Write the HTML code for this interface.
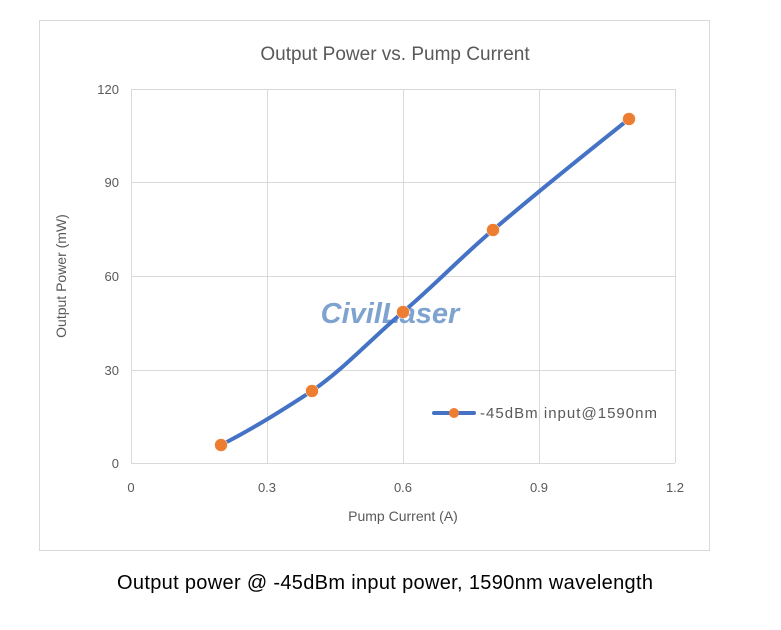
<!DOCTYPE html>
<html><head><style>
body{margin:0;background:#fff;width:781px;height:625px;overflow:hidden}
</style></head><body>
<svg width="781" height="625" xmlns="http://www.w3.org/2000/svg" font-family="Liberation Sans, sans-serif">
<rect x="39.5" y="20.5" width="670" height="530" fill="#fff" stroke="#d9d9d9"/>
<text x="395" y="60" font-size="19" fill="#595959" text-anchor="middle">Output Power vs. Pump Current</text>
<g stroke="#d9d9d9" stroke-width="1">
<line x1="131" y1="89.5" x2="675" y2="89.5"/>
<line x1="131" y1="182.5" x2="675" y2="182.5"/>
<line x1="131" y1="276.5" x2="675" y2="276.5"/>
<line x1="131" y1="370.5" x2="675" y2="370.5"/>
<line x1="131" y1="463.5" x2="675" y2="463.5"/>
<line x1="131.5" y1="89" x2="131.5" y2="463"/>
<line x1="267.5" y1="89" x2="267.5" y2="463"/>
<line x1="403.5" y1="89" x2="403.5" y2="463"/>
<line x1="539.5" y1="89" x2="539.5" y2="463"/>
<line x1="675.5" y1="89" x2="675.5" y2="463"/>
</g>
<g font-size="13" fill="#595959" text-anchor="end">
<text x="119" y="94">120</text><text x="119" y="187">90</text><text x="119" y="281">60</text><text x="119" y="375">30</text><text x="119" y="468">0</text>
</g>
<g font-size="13" fill="#595959" text-anchor="middle">
<text x="131" y="492">0</text><text x="267" y="492">0.3</text><text x="403" y="492">0.6</text><text x="539" y="492">0.9</text><text x="675" y="492">1.2</text>
</g>
<text x="403" y="521" font-size="14" fill="#595959" text-anchor="middle">Pump Current (A)</text>
<text transform="translate(66,276) rotate(-90)" font-size="14" fill="#595959" text-anchor="middle">Output Power (mW)</text>
<text x="390" y="323" font-size="29" font-weight="bold" font-style="italic" fill="#7fa3cf" text-anchor="middle">CivilLaser</text>
<path d="M221,445 C260,425 290,405 312,391 C345,368 370,340 403,312 C435,285 460,258 493,230 C540,190 590,150 629,119" fill="none" stroke="#4472c4" stroke-width="4" stroke-linecap="round"/>
<g fill="#ed7d31" stroke="#fff" stroke-width="0.5">
<circle cx="221" cy="445" r="6.5"/><circle cx="312" cy="391" r="6.5"/><circle cx="403" cy="312" r="6.5"/><circle cx="493" cy="230" r="6.5"/><circle cx="629" cy="119" r="6.5"/>
</g>
<line x1="434" y1="413" x2="474" y2="413" stroke="#4472c4" stroke-width="4" stroke-linecap="round"/>
<circle cx="454" cy="413" r="5" fill="#ed7d31"/>
<text x="480" y="418" font-size="15" fill="#595959" textLength="177">-45dBm input@1590nm</text>
<text x="385" y="589" font-size="20" fill="#000" text-anchor="middle" textLength="536">Output power @ -45dBm input power, 1590nm wavelength</text>
</svg>
</body></html>
